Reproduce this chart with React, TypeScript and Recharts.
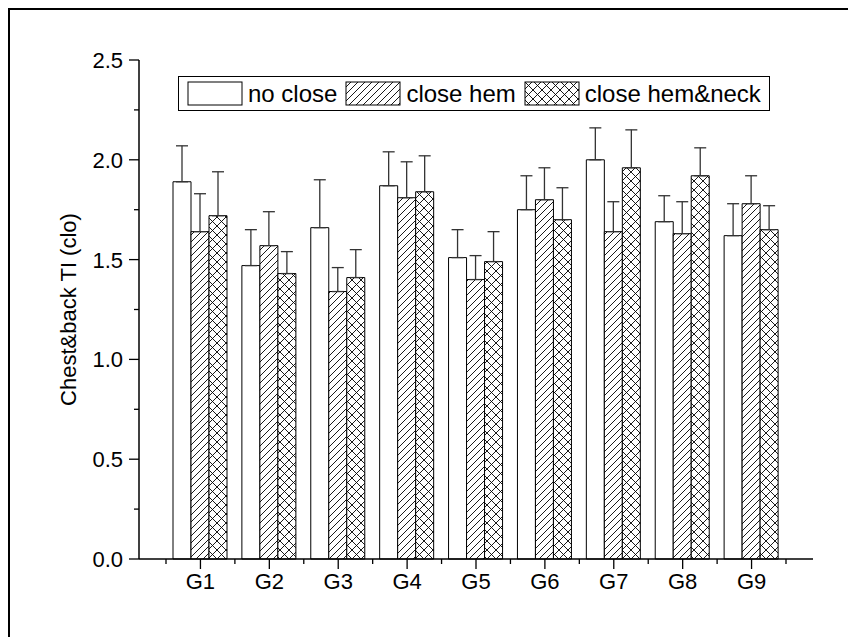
import React from 'react';
import { BarChart, Bar, XAxis, YAxis, ErrorBar, Legend } from 'recharts';

const groups = ['G1', 'G2', 'G3', 'G4', 'G5', 'G6', 'G7', 'G8', 'G9'];
const noClose = [1.89, 1.47, 1.66, 1.87, 1.51, 1.75, 2.0, 1.69, 1.62];
const noCloseErr = [0.18, 0.18, 0.24, 0.17, 0.14, 0.17, 0.16, 0.13, 0.16];
const closeHem = [1.64, 1.57, 1.34, 1.81, 1.4, 1.8, 1.64, 1.63, 1.78];
const closeHemErr = [0.19, 0.17, 0.12, 0.18, 0.12, 0.16, 0.15, 0.16, 0.14];
const closeHemNeck = [1.72, 1.43, 1.41, 1.84, 1.49, 1.7, 1.96, 1.92, 1.65];
const closeHemNeckErr = [0.22, 0.11, 0.14, 0.18, 0.15, 0.16, 0.19, 0.14, 0.12];
const yTicks = [0, 0.25, 0.5, 0.75, 1, 1.25, 1.5, 1.75, 2, 2.25, 2.5];
const topTicks = [1, 2, 3, 4, 5, 6, 7, 8, 9];

const series = [
  { key: 'noClose', err: 'noCloseErr', name: 'no close', fill: '#fff' },
  { key: 'closeHem', err: 'closeHemErr', name: 'close hem', fill: 'url(#hatch)' },
  { key: 'closeHemNeck', err: 'closeHemNeckErr', name: 'close hem&neck', fill: 'url(#cross)' },
];

const data = groups.map((g, i) => ({
  group: g,
  pos: i + 1,
  noClose: noClose[i],
  noCloseErr: [0, noCloseErr[i]],
  closeHem: closeHem[i],
  closeHemErr: [0, closeHemErr[i]],
  closeHemNeck: closeHemNeck[i],
  closeHemNeckErr: [0, closeHemNeckErr[i]],
}));

const FONT = '"Liberation Sans", Arial, sans-serif';
const W = 846;
const H = 627;
const PLOT_LEFT = 129;
const PLOT_RIGHT = 803;
const PAD = 27;
const BAND = (PLOT_RIGHT - PLOT_LEFT - 2 * PAD) / groups.length;

const YTick = ({ x, y, payload }: any) => {
  const v = payload.value;
  const major = Math.abs(v * 2 - Math.round(v * 2)) < 1e-6;
  return (
    <g>
      <line x1={x - (major ? 10 : 5)} x2={x} y1={y} y2={y} stroke="#000" strokeWidth={1.3} />
      {major && (
        <text x={x - 16} y={y} dy={8} textAnchor="end" fontSize={22} fontFamily={FONT} fill="#000">
          {v.toFixed(1)}
        </text>
      )}
    </g>
  );
};

const XTick = ({ x, y, payload, index }: any) => (
  <g stroke="#000" strokeWidth={1.3}>
    <line x1={x} x2={x} y1={y} y2={y + 10} />
    <line x1={x - BAND / 2} x2={x - BAND / 2} y1={y} y2={y + 5} />
    {index === groups.length - 1 && <line x1={x + BAND / 2} x2={x + BAND / 2} y1={y} y2={y + 5} />}
    <text x={x} y={y + 29.5} textAnchor="middle" fontSize={22} fontFamily={FONT} fill="#000" stroke="none">
      {payload.value}
    </text>
  </g>
);

const LegendBox = () => (
  <div
    style={{
      display: 'flex',
      alignItems: 'center',
      border: '1.5px solid #000',
      background: '#fff',
      padding: '4px 8px',
      fontFamily: FONT,
      fontSize: 24,
      lineHeight: '24px',
      whiteSpace: 'nowrap',
    }}
  >
    {series.map((s, i) => (
      <div key={s.key} style={{ display: 'flex', alignItems: 'center', marginLeft: i === 0 ? 0 : 8 }}>
        <svg width={56} height={25} style={{ display: 'block' }}>
          <rect x={1} y={1} width={54} height={23} fill={s.fill} stroke="#000" strokeWidth={1} />
        </svg>
        <span style={{ marginLeft: 5 }}>{s.name}</span>
      </div>
    ))}
  </div>
);

const YLabel = ({ viewBox }: any) => {
  const cy = viewBox.y + viewBox.height / 2;
  return (
    <text
      x={66}
      y={cy}
      transform={`rotate(-90, 66, ${cy})`}
      textAnchor="middle"
      fontSize={22}
      fontFamily={FONT}
      fill="#000"
    >
      Chest&amp;back TI (clo)
    </text>
  );
};

export default function App() {
  return (
    <div
      style={{
        width: 848,
        height: 629,
        boxSizing: 'border-box',
        borderTop: '2px solid #000',
        borderLeft: '2px solid #000',
        fontFamily: FONT,
      }}
    >
      <BarChart
        width={W}
        height={H}
        data={data}
        margin={{ top: 50, right: W - PLOT_RIGHT, bottom: 0, left: 0 }}
        barGap={0}
        barSize={18}
      >
        <defs>
          <pattern id="hatch" patternUnits="userSpaceOnUse" width={7} height={7}>
            <rect width={7} height={7} fill="#fff" />
            <path d="M0,7 L7,0 M-1,1 L1,-1 M6,8 L8,6" stroke="#000" strokeWidth={0.9} />
          </pattern>
          <pattern id="cross" patternUnits="userSpaceOnUse" width={9} height={9}>
            <rect width={9} height={9} fill="#fff" />
            <path d="M0,9 L9,0 M0,0 L9,9" stroke="#000" strokeWidth={0.9} />
          </pattern>
        </defs>
        <XAxis
          dataKey="group"
          height={H - 50 - 499}
          padding={{ left: PAD, right: PAD }}
          interval={0}
          tickSize={0}
          tickMargin={0}
          tickLine={false}
          tick={<XTick />}
          axisLine={{ stroke: '#000', strokeWidth: 1.5 }}
        />
        <XAxis
          xAxisId="top"
          orientation="top"
          type="number"
          dataKey="pos"
          domain={[0, 10]}
          ticks={topTicks}
          mirror
          height={0}
          tick={false}
          tickSize={5}
          tickLine={{ stroke: '#000', strokeWidth: 1.3 }}
          axisLine={{ stroke: '#000', strokeWidth: 1.5 }}
        />
        <YAxis
          width={PLOT_LEFT}
          domain={[0, 2.5]}
          ticks={yTicks}
          interval={0}
          tickSize={0}
          tickMargin={0}
          tickLine={false}
          tick={<YTick />}
          axisLine={{ stroke: '#000', strokeWidth: 1.5 }}
          label={<YLabel />}
        />
        <YAxis
          yAxisId="right"
          orientation="right"
          mirror
          width={0}
          domain={[0, 2.5]}
          ticks={yTicks}
          interval={0}
          tick={false}
          tickSize={10}
          tickLine={{ stroke: '#000', strokeWidth: 1.3 }}
          axisLine={{ stroke: '#000', strokeWidth: 1.5 }}
        />
        <Legend
          layout="horizontal"
          verticalAlign="middle"
          align="center"
          wrapperStyle={{ left: 168, top: 66, width: 'auto' }}
          content={<LegendBox />}
        />
        {series.map((s) => (
          <Bar
            key={s.key}
            dataKey={s.key}
            name={s.name}
            fill={s.fill}
            stroke="#000"
            strokeWidth={1}
            isAnimationActive={false}
          >
            <ErrorBar
              dataKey={s.err}
              width={6}
              stroke="#333"
              strokeWidth={1.3}
              direction="y"
              isAnimationActive={false}
            />
          </Bar>
        ))}
      </BarChart>
    </div>
  );
}
